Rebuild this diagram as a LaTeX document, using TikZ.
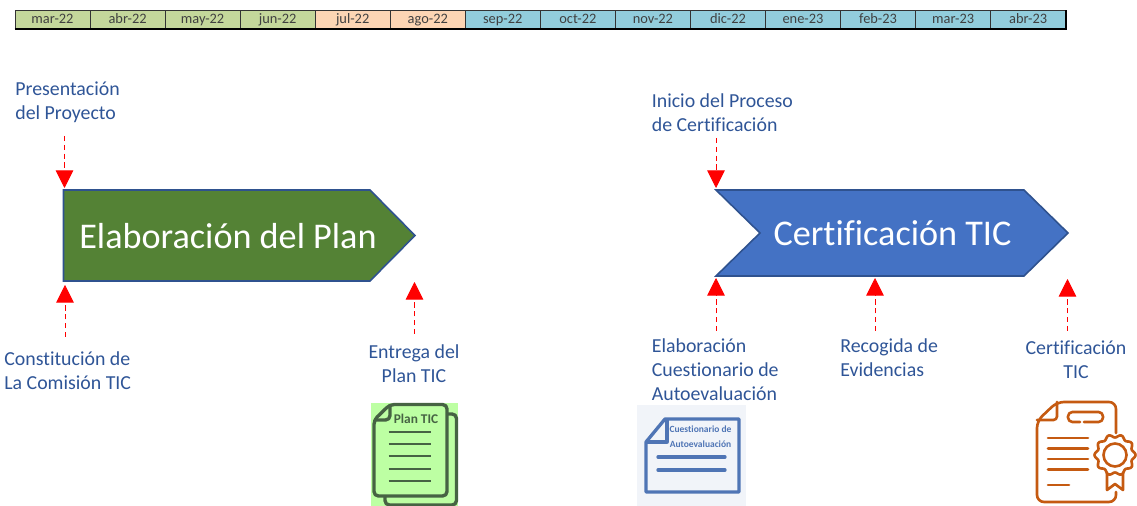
\documentclass[tikz,border=0pt]{standalone}
\usepackage{fontspec}
\setmainfont{Carlito}[Ligatures=NoCommon]
\usetikzlibrary{arrows.meta}
\definecolor{mesverde}{HTML}{C4D79B}
\definecolor{mesnaranja}{HTML}{FCD5B4}
\definecolor{mesazul}{HTML}{92CDDC}
\definecolor{texto}{HTML}{2F5597}
\definecolor{borde}{HTML}{2F528F}
\definecolor{verdeplan}{HTML}{548235}
\definecolor{azulcert}{HTML}{4472C4}
\definecolor{iconoverde}{HTML}{466343}
\definecolor{fondoverde}{HTML}{BDFFA3}
\definecolor{iconoazul}{HTML}{4F75B5}
\definecolor{fondoazul}{HTML}{F1F4F9}
\definecolor{iconocert}{HTML}{C55A11}
\tikzset{
  mes/.style={draw=black!80,line width=0.45pt,minimum width=42.7pt,minimum height=10.8pt,inner sep=0pt,text=black!75,text height=5.6pt,text depth=1.6pt,font=\fontsize{8.2}{10}\selectfont},
  etiqueta/.style={inner sep=0pt,text=texto,font=\fontsize{11.3}{13.66}\selectfont},
  titulo/.style={inner sep=0pt,text=white,font=\fontsize{20.6}{24}\selectfont},
  flecha/.style={red,densely dashed,line width=0.4pt,-{Triangle[length=10pt,width=10pt]}},
  fase/.style={draw=borde,line width=0.9pt},
}
\begin{document}
\begin{tikzpicture}[x=0.02cm,y=-0.02cm]
\useasboundingbox (0,0) rectangle (1137,506);

% meses
\node[mes,fill=mesverde](m1) at (52.5,19.5) {mar-22};
\node[mes,fill=mesverde](m2) at (127.6,19.5) {abr-22};
\node[mes,fill=mesverde](m3) at (202.6,19.5) {may-22};
\node[mes,fill=mesverde](m4) at (277.7,19.5) {jun-22};
\node[mes,fill=mesnaranja](m5) at (352.7,19.5) {jul-22};
\node[mes,fill=mesnaranja](m6) at (427.8,19.5) {ago-22};
\node[mes,fill=mesazul](m7) at (502.8,19.5) {sep-22};
\node[mes,fill=mesazul](m8) at (577.9,19.5) {oct-22};
\node[mes,fill=mesazul](m9) at (652.9,19.5) {nov-22};
\node[mes,fill=mesazul](m10) at (728,19.5) {dic-22};
\node[mes,fill=mesazul](m11) at (803,19.5) {ene-23};
\node[mes,fill=mesazul](m12) at (878.1,19.5) {feb-23};
\node[mes,fill=mesazul](m13) at (953.1,19.5) {mar-23};
\node[mes,fill=mesazul](m14) at (1028.2,19.5) {abr-23};
\draw[line width=1.1pt] (m1.south west) -- (m14.south east) -- (m14.north east);

% fases
\draw[fase,fill=verdeplan] (63.5,190) -- (370,190) -- (415,235.5) -- (370,281) -- (63.5,281) -- cycle;
\draw[fase,fill=azulcert] (716,190) -- (1024,190) -- (1068,233) -- (1024,276) -- (716,276) -- (760,233) -- cycle;
\node[titulo](plan) at (228,236) {Elaboración del Plan};
\node[titulo](cert) at (892.5,233) {Certificación TIC};

% hitos
\node[etiqueta,anchor=west,align=left](presenta) at (15,102.5) {Presentación\\del Proyecto};
\node[etiqueta,anchor=west,align=left](comision) at (4,370.5) {Constitución de\\La Comisión TIC};
\node[etiqueta,align=center](entrega) at (414,363.5) {Entrega del\\Plan TIC};
\node[etiqueta,anchor=west,align=left](inicio) at (651.5,113) {Inicio del Proceso\\de Certificación};
\node[etiqueta,anchor=west,align=left](cuestion) at (651.5,369.5) {Elaboración\\Cuestionario de\\Autoevaluación};
\node[etiqueta,anchor=west,align=left](recogida) at (840,357.5) {Recogida de\\Evidencias};
\node[etiqueta,align=center](certif) at (1076,360) {Certificación\\TIC};

\coordinate(a1) at (64.5,136);
\coordinate(b1) at (64.5,188);
\coordinate(a2) at (65,337);
\coordinate(b2) at (65,285);
\coordinate(a3) at (414.5,334);
\coordinate(b3) at (414.5,282);
\coordinate(a4) at (716,138);
\coordinate(b4) at (716,188);
\coordinate(a5) at (716,331);
\coordinate(b5) at (716,278);
\coordinate(a6) at (875,331);
\coordinate(b6) at (875,278);
\coordinate(a7) at (1067.5,331);
\coordinate(b7) at (1067.5,279);
\draw[flecha] (a1) -- (b1);
\draw[flecha] (a2) -- (b2);
\draw[flecha] (a3) -- (b3);
\draw[flecha] (a4) -- (b4);
\draw[flecha] (a5) -- (b5);
\draw[flecha] (a6) -- (b6);
\draw[flecha] (a7) -- (b7);

% icono plan
\fill[fondoverde] (371,403) rectangle (458,506);
\begin{scope}[draw=iconoverde,line width=1.9pt,line join=round,rounded corners=2.5pt]
\draw (447,414) -- (456.5,414) -- (456.5,505) -- (385,505) -- (385,496);
\draw (374,420) -- (390,404.5) -- (447,404.5) -- (447,496) -- (374,496) -- cycle;
\draw (374,420) -- (390,420) -- (390,404.5);
\end{scope}
\draw[iconoverde,line width=1.7pt] (388.5,432) -- (431,432);
\draw[iconoverde,line width=1.7pt] (388.5,444) -- (431,444);
\draw[iconoverde,line width=1.7pt] (388.5,456) -- (431,456);
\draw[iconoverde,line width=1.7pt] (388.5,469) -- (431,469);
\draw[iconoverde,line width=1.7pt] (388.5,481) -- (431,481);
\node[inner sep=0pt,text=iconoverde,font=\fontsize{7.6}{9}\selectfont\bfseries](plantic) at (416,419) {Plan TIC};

% icono cuestionario
\fill[fondoazul] (637,405) rectangle (746,506);
\draw[iconoazul,line width=1.9pt,line join=round] (646,442) -- (665,419) -- (739,419) -- (739,492) -- (646,492) -- cycle;
\draw[iconoazul,line width=1.9pt,line join=round] (646,442) -- (667,442) -- (667,419);
\draw[iconoazul,line width=1.9pt,line cap=round] (658,457) -- (725,457);
\draw[iconoazul,line width=1.9pt,line cap=round] (658,470) -- (725,470);
\node[inner sep=0pt,text=iconoazul,align=center,font=\fontsize{5.4}{8.6}\selectfont\bfseries](auto) at (700.5,436.5) {Cuestionario de\\Autoevaluación};

% icono certificado
\begin{scope}[draw=iconocert,line width=1.5pt,line cap=round,line join=round]
\draw[rounded corners=4pt] (1116,433) -- (1116,402) -- (1057,402) -- (1037,421) -- (1037,502) -- (1116,502) -- (1116,492);
\draw[rounded corners=2pt] (1057,402) -- (1057,420) -- (1037,420);
\draw[rounded corners=2.5pt] (1080,422) -- (1068,422) -- (1068,412) -- (1103,412) -- (1103,422) -- (1084,422);
\draw (1048,438) -- (1088,438);
\draw (1048,448.5) -- (1088,448.5);
\draw (1048,459) -- (1088,459);
\draw (1048,469.5) -- (1088,469.5);
\draw (1048,485) -- (1069,485);
\draw (1115,455) circle[radius=11.5];
\draw[smooth,samples=121,domain=0:360] plot ({1115+(19+1.5*cos(10*\x))*cos(\x)},{455+(19+1.5*cos(10*\x))*sin(\x)});
\draw (1107,473) -- (1107,490) -- (1115,484) -- (1123,490) -- (1123,473);
\end{scope}
\end{tikzpicture}
\end{document}
